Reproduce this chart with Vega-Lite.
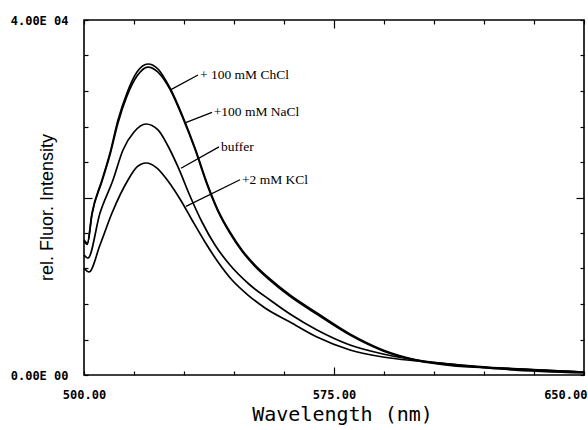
{
  "$schema": "https://vega.github.io/schema/vega-lite/v6.json",
  "width": 500,
  "height": 355,
  "autosize": {"type": "none"},
  "padding": {"left": 84, "top": 20, "right": 4, "bottom": 55},
  "background": "white",
  "config": {
    "view": {"stroke": "black", "strokeWidth": 1.6},
    "axis": {
      "domain": false,
      "grid": false,
      "tickColor": "black",
      "tickWidth": 1.2,
      "labelColor": "black",
      "labelFont": "DejaVu Sans Mono",
      "labelFontSize": 12,
      "labelFontWeight": "bold",
      "labelOverlap": false,
      "labelBound": false,
      "titleColor": "black"
    }
  },
  "datasets": {
    "curves": [
      {"series": "+ 100 mM ChCl", "wavelength": 500, "intensity": 15210},
      {"series": "+ 100 mM ChCl", "wavelength": 501, "intensity": 14870},
      {"series": "+ 100 mM ChCl", "wavelength": 502.4, "intensity": 18250},
      {"series": "+ 100 mM ChCl", "wavelength": 505.4, "intensity": 21970},
      {"series": "+ 100 mM ChCl", "wavelength": 507.8, "intensity": 25020},
      {"series": "+ 100 mM ChCl", "wavelength": 510.2, "intensity": 28730},
      {"series": "+ 100 mM ChCl", "wavelength": 512.9, "intensity": 31780},
      {"series": "+ 100 mM ChCl", "wavelength": 515.9, "intensity": 34140},
      {"series": "+ 100 mM ChCl", "wavelength": 519.2, "intensity": 35040},
      {"series": "+ 100 mM ChCl", "wavelength": 522.2, "intensity": 34480},
      {"series": "+ 100 mM ChCl", "wavelength": 525.8, "intensity": 32340},
      {"series": "+ 100 mM ChCl", "wavelength": 529.7, "intensity": 29070},
      {"series": "+ 100 mM ChCl", "wavelength": 533.3, "intensity": 25580},
      {"series": "+ 100 mM ChCl", "wavelength": 536.9, "intensity": 21630},
      {"series": "+ 100 mM ChCl", "wavelength": 540.2, "intensity": 18590},
      {"series": "+ 100 mM ChCl", "wavelength": 543.8, "intensity": 16110},
      {"series": "+ 100 mM ChCl", "wavelength": 547.4, "intensity": 14090},
      {"series": "+ 100 mM ChCl", "wavelength": 551.3, "intensity": 12390},
      {"series": "+ 100 mM ChCl", "wavelength": 555.8, "intensity": 10820},
      {"series": "+ 100 mM ChCl", "wavelength": 561.8, "intensity": 9010},
      {"series": "+ 100 mM ChCl", "wavelength": 569.9, "intensity": 6990},
      {"series": "+ 100 mM ChCl", "wavelength": 579.8, "intensity": 4620},
      {"series": "+ 100 mM ChCl", "wavelength": 589.7, "intensity": 2820},
      {"series": "+ 100 mM ChCl", "wavelength": 599.9, "intensity": 1690},
      {"series": "+ 100 mM ChCl", "wavelength": 609.8, "intensity": 1130},
      {"series": "+ 100 mM ChCl", "wavelength": 624.8, "intensity": 790},
      {"series": "+ 100 mM ChCl", "wavelength": 650, "intensity": 340},

      {"series": "+100 mM NaCl", "wavelength": 500, "intensity": 15060},
      {"series": "+100 mM NaCl", "wavelength": 501, "intensity": 14720},
      {"series": "+100 mM NaCl", "wavelength": 502.4, "intensity": 18100},
      {"series": "+100 mM NaCl", "wavelength": 505.4, "intensity": 21820},
      {"series": "+100 mM NaCl", "wavelength": 507.8, "intensity": 24800},
      {"series": "+100 mM NaCl", "wavelength": 510.2, "intensity": 28400},
      {"series": "+100 mM NaCl", "wavelength": 512.9, "intensity": 31440},
      {"series": "+100 mM NaCl", "wavelength": 515.9, "intensity": 33690},
      {"series": "+100 mM NaCl", "wavelength": 519.2, "intensity": 34700},
      {"series": "+100 mM NaCl", "wavelength": 522.2, "intensity": 34140},
      {"series": "+100 mM NaCl", "wavelength": 525.8, "intensity": 32200},
      {"series": "+100 mM NaCl", "wavelength": 529.7, "intensity": 28920},
      {"series": "+100 mM NaCl", "wavelength": 533.3, "intensity": 25430},
      {"series": "+100 mM NaCl", "wavelength": 536.9, "intensity": 21480},
      {"series": "+100 mM NaCl", "wavelength": 540.2, "intensity": 18440},
      {"series": "+100 mM NaCl", "wavelength": 543.8, "intensity": 15960},
      {"series": "+100 mM NaCl", "wavelength": 547.4, "intensity": 13940},
      {"series": "+100 mM NaCl", "wavelength": 551.3, "intensity": 12240},
      {"series": "+100 mM NaCl", "wavelength": 555.8, "intensity": 10670},
      {"series": "+100 mM NaCl", "wavelength": 561.8, "intensity": 8860},
      {"series": "+100 mM NaCl", "wavelength": 569.9, "intensity": 6840},
      {"series": "+100 mM NaCl", "wavelength": 579.8, "intensity": 4500},
      {"series": "+100 mM NaCl", "wavelength": 589.7, "intensity": 2720},
      {"series": "+100 mM NaCl", "wavelength": 599.9, "intensity": 1620},
      {"series": "+100 mM NaCl", "wavelength": 609.8, "intensity": 1080},
      {"series": "+100 mM NaCl", "wavelength": 624.8, "intensity": 750},
      {"series": "+100 mM NaCl", "wavelength": 650, "intensity": 320},

      {"series": "buffer", "wavelength": 500, "intensity": 13520},
      {"series": "buffer", "wavelength": 501.2, "intensity": 13180},
      {"series": "buffer", "wavelength": 504.8, "intensity": 18250},
      {"series": "buffer", "wavelength": 508.7, "intensity": 21970},
      {"series": "buffer", "wavelength": 511.7, "intensity": 25350},
      {"series": "buffer", "wavelength": 515, "intensity": 27380},
      {"series": "buffer", "wavelength": 518.6, "intensity": 28280},
      {"series": "buffer", "wavelength": 522.2, "intensity": 27610},
      {"series": "buffer", "wavelength": 525.2, "intensity": 25800},
      {"series": "buffer", "wavelength": 528.2, "intensity": 23440},
      {"series": "buffer", "wavelength": 531.8, "intensity": 20170},
      {"series": "buffer", "wavelength": 535.4, "intensity": 17240},
      {"series": "buffer", "wavelength": 539.3, "intensity": 14650},
      {"series": "buffer", "wavelength": 543.8, "intensity": 12390},
      {"series": "buffer", "wavelength": 549.8, "intensity": 10140},
      {"series": "buffer", "wavelength": 555.8, "intensity": 8450},
      {"series": "buffer", "wavelength": 561.8, "intensity": 6870},
      {"series": "buffer", "wavelength": 569.9, "intensity": 5070},
      {"series": "buffer", "wavelength": 579.8, "intensity": 3380},
      {"series": "buffer", "wavelength": 589.7, "intensity": 2370},
      {"series": "buffer", "wavelength": 599.9, "intensity": 1690},
      {"series": "buffer", "wavelength": 609.8, "intensity": 1240},
      {"series": "buffer", "wavelength": 624.8, "intensity": 790},
      {"series": "buffer", "wavelength": 650, "intensity": 340},

      {"series": "+2 mM KCl", "wavelength": 500, "intensity": 12060},
      {"series": "+2 mM KCl", "wavelength": 501.5, "intensity": 11610},
      {"series": "+2 mM KCl", "wavelength": 504.8, "intensity": 14650},
      {"series": "+2 mM KCl", "wavelength": 508.4, "intensity": 18250},
      {"series": "+2 mM KCl", "wavelength": 513.2, "intensity": 21970},
      {"series": "+2 mM KCl", "wavelength": 515.9, "intensity": 23440},
      {"series": "+2 mM KCl", "wavelength": 518.6, "intensity": 23890},
      {"series": "+2 mM KCl", "wavelength": 521.9, "intensity": 23320},
      {"series": "+2 mM KCl", "wavelength": 525.2, "intensity": 21860},
      {"series": "+2 mM KCl", "wavelength": 528.8, "intensity": 19830},
      {"series": "+2 mM KCl", "wavelength": 532.4, "intensity": 17470},
      {"series": "+2 mM KCl", "wavelength": 536.3, "intensity": 14990},
      {"series": "+2 mM KCl", "wavelength": 540.2, "intensity": 12730},
      {"series": "+2 mM KCl", "wavelength": 544.4, "intensity": 10700},
      {"series": "+2 mM KCl", "wavelength": 549.2, "intensity": 9010},
      {"series": "+2 mM KCl", "wavelength": 554.3, "intensity": 7550},
      {"series": "+2 mM KCl", "wavelength": 561.8, "intensity": 5970},
      {"series": "+2 mM KCl", "wavelength": 569.9, "intensity": 4280},
      {"series": "+2 mM KCl", "wavelength": 579.8, "intensity": 2820},
      {"series": "+2 mM KCl", "wavelength": 589.7, "intensity": 2030},
      {"series": "+2 mM KCl", "wavelength": 599.9, "intensity": 1580},
      {"series": "+2 mM KCl", "wavelength": 609.8, "intensity": 1240},
      {"series": "+2 mM KCl", "wavelength": 624.8, "intensity": 680},
      {"series": "+2 mM KCl", "wavelength": 650, "intensity": 230}
    ],
    "labels": [
      {"label": "+ 100 mM ChCl", "x1": 525.8, "y1": 32100, "x2": 534.2, "y2": 33800, "tx": 534.8, "ty": 33800},
      {"label": "+100 mM NaCl", "x1": 530.3, "y1": 28400, "x2": 538.4, "y2": 29600, "tx": 538.9, "ty": 29600},
      {"label": "buffer", "x1": 529.1, "y1": 23300, "x2": 540.5, "y2": 25700, "tx": 541.1, "ty": 25700},
      {"label": "+2 mM KCl", "x1": 530.6, "y1": 19000, "x2": 546.8, "y2": 22000, "tx": 547.4, "ty": 22000}
    ]
  },
  "layer": [
    {
      "data": {"name": "curves"},
      "mark": {"type": "line", "color": "black", "strokeWidth": 1.7, "interpolate": "monotone"},
      "encoding": {
        "x": {
          "field": "wavelength", "type": "quantitative",
          "scale": {"domain": [500, 650], "nice": false, "zero": false},
          "axis": {
            "orient": "bottom",
            "values": [500, 515, 530, 545, 560, 575, 590, 605, 620, 635, 650],
            "tickSize": {"condition": {"test": "datum.value == 575", "value": -8}, "value": -4},
            "labelPadding": {"condition": {"test": "datum.value == 575", "value": 22}, "value": 18},
            "labelExpr": "(datum.value - 500) % 75 == 0 ? format(datum.value, '.2f') : ''",
            "labelAlign": {"condition": {"test": "datum.value == 650", "value": "right"}, "value": "center"},
            "labelOffset": {"condition": {"test": "datum.value == 650", "value": 3}, "value": 0},
            "title": "Wavelength (nm)",
            "titleFont": "DejaVu Sans Mono",
            "titleFontSize": 20,
            "titleFontWeight": "normal",
            "titleX": 258,
            "titleY": 39,
            "titleBaseline": "middle",
            "titleAlign": "center"
          }
        },
        "y": {
          "field": "intensity", "type": "quantitative",
          "scale": {"domain": [0, 40000], "nice": false},
          "axis": {
            "orient": "left",
            "values": [0, 4000, 8000, 12000, 16000, 20000, 24000, 28000, 32000, 36000, 40000],
            "tickSize": {"condition": {"test": "datum.value == 20000", "value": -8}, "value": -4},
            "labelPadding": 20,
            "labelExpr": "datum.value == 40000 ? '4.00E 04' : datum.value == 0 ? '0.00E 00' : ''",
            "title": "rel. Fluor. Intensity",
            "titleFont": "Liberation Sans",
            "titleFontSize": 18,
            "titleFontWeight": "normal",
            "titleAngle": 270,
            "titleX": -37,
            "titleY": 187,
            "titleBaseline": "middle",
            "titleAlign": "center"
          }
        },
        "detail": {"field": "series"}
      }
    },
    {
      "data": {"name": "labels"},
      "mark": {"type": "rule", "color": "black", "strokeWidth": 1.3},
      "encoding": {
        "x": {
          "field": "x1", "type": "quantitative",
          "axis": {
            "orient": "top",
            "values": [500, 515, 530, 545, 560, 575, 590, 605, 620, 635, 650],
            "tickSize": {"condition": {"test": "datum.value == 575", "value": -8}, "value": -4},
            "labels": false,
            "title": null
          }
        },
        "x2": {"field": "x2"},
        "y": {
          "field": "y1", "type": "quantitative",
          "axis": {
            "orient": "right",
            "values": [0, 4000, 8000, 12000, 16000, 20000, 24000, 28000, 32000, 36000, 40000],
            "tickSize": {"condition": {"test": "datum.value == 20000", "value": -8}, "value": -4},
            "labels": false,
            "title": null
          }
        },
        "y2": {"field": "y2"}
      }
    },
    {
      "data": {"name": "labels"},
      "mark": {"type": "text", "align": "left", "baseline": "middle", "font": "Liberation Serif", "fontSize": 13.5, "color": "black"},
      "encoding": {
        "x": {"field": "tx", "type": "quantitative", "axis": null},
        "y": {"field": "ty", "type": "quantitative", "axis": null},
        "text": {"field": "label"}
      }
    }
  ],
  "resolve": {"axis": {"x": "independent", "y": "independent"}}
}
